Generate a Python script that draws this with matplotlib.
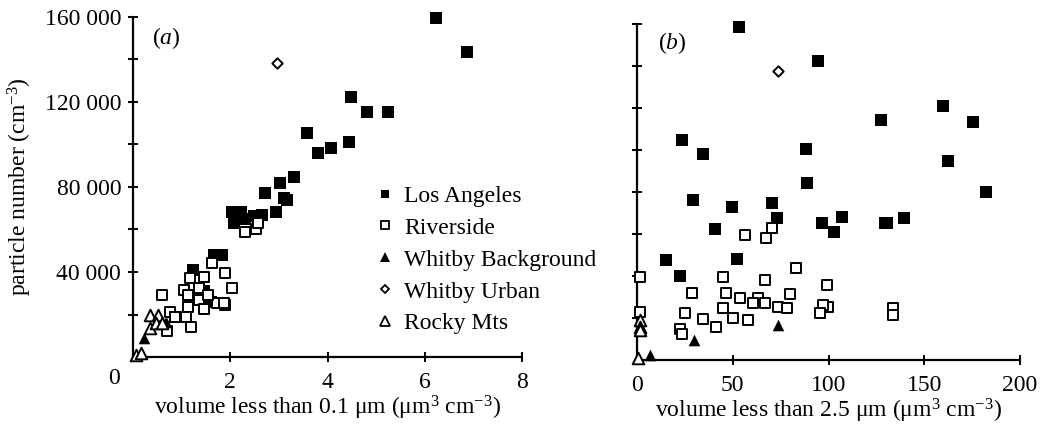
import matplotlib
matplotlib.use("Agg")
import matplotlib.pyplot as plt
from matplotlib.lines import Line2D

plt.rcParams['font.family'] = ['Liberation Serif', 'DejaVu Serif']
plt.rcParams['mathtext.fontset'] = 'custom'
plt.rcParams['mathtext.rm'] = 'Liberation Serif'
plt.rcParams['mathtext.it'] = 'Liberation Serif:italic'

# ---------------- Panel (a): volume < 0.1 um ----------------
la_a_x = [6.24, 6.86, 4.48, 4.82, 5.24, 4.45, 4.08, 3.57, 3.80, 3.32, 3.03, 2.72,
          3.10, 3.16, 2.95, 2.03, 2.23, 2.07, 2.31, 2.48, 2.65, 1.66, 1.84, 1.24, 1.45, 1.60]
la_a_y = [159500, 143500, 122400, 115300, 115300, 101200, 98400, 105400, 96000, 84700,
          81900, 77200, 74800, 73900, 68200, 68200, 68200, 63000, 65000, 66400, 66800,
          48000, 48000, 40900, 31000, 26000]

riv_a_x = [2.31, 2.52, 2.58, 1.62, 1.90, 1.47, 1.18, 2.03, 1.35, 1.04, 1.14, 0.59,
           1.35, 1.90, 1.72, 1.14, 1.47, 1.10, 0.77, 0.87, 0.69, 1.20, 1.88, 1.55, 0.86]
riv_a_y = [58800, 60200, 63000, 44200, 39500, 37600, 37200, 32500, 32500, 31500, 29200,
           29200, 26800, 24500, 25400, 23500, 22600, 18800, 21200, 18800, 12200, 14100,
           25400, 29000, 18800]

wbg_a_x = [0.22, 0.67]
wbg_a_y = [8900, 16500]

wurb_a_x = [2.97]
wurb_a_y = [138400]

rocky_a_x = [0.34, 0.52, 0.34, 0.48, 0.07, 0.17, 0.60]
rocky_a_y = [19800, 19800, 13600, 16000, 900, 1900, 16000]

# ---------------- Panel (b): volume < 2.5 um ----------------
la_b_x = [53.1, 23.4, 34.4, 88.0, 89.0, 94.3, 159.9, 175.5, 127.6, 162.5, 182.3,
          96.4, 103.1, 107.3, 129.7, 130.7, 139.6, 29.2, 49.5, 70.3, 72.9, 40.6,
          15.1, 22.4, 52.1]
la_b_y = [158600, 104800, 98100, 100500, 84300, 142400, 121000, 113300, 114300,
          94800, 80000, 65200, 60900, 68000, 65200, 65200, 67600, 76200, 72900,
          74800, 67600, 62400, 47600, 40000, 48100]

riv_b_x = [1.5, 56.3, 70.3, 67.2, 82.8, 44.8, 66.7, 28.6, 46.4, 53.6, 63.0, 60.4,
           66.7, 79.7, 44.8, 73.4, 78.1, 25.0, 34.4, 50.0, 57.8, 41.1, 22.4, 23.4,
           1.5, 99.0, 99.5, 96.9, 95.8, 133.9, 133.9]
riv_b_y = [39500, 59500, 62900, 58100, 43800, 39500, 38100, 31900, 31900, 29500,
           29500, 27100, 27100, 31400, 24800, 25200, 24800, 22400, 19500, 20000,
           19000, 15700, 14800, 12400, 22900, 35700, 25200, 26200, 22400, 24800, 21400]

wbg_b_x = [30.0, 73.4, 6.8]
wbg_b_y = [9500, 16700, 2400]

wurb_b_x = [73.4]
wurb_b_y = [137600]

rocky_b_x = [1.5, 1.5, 1.5, 0.5]
rocky_b_y = [19000, 15700, 14300, 1000]

legend_labels = ['Los Angeles', 'Riverside', 'Whitby Background', 'Whitby Urban', 'Rocky Mts']
xticks_a = [0, 2, 4, 6, 8]
xticks_b = [0, 50, 100, 150, 200]
yticks_major = [40000, 80000, 120000, 160000]
ytick_labels = ['40 000', '80 000', '120 000', '160 000']
yticks_minor = [20000, 60000, 100000, 140000]

FS = 17
fig = plt.figure(figsize=(10.4, 4.25), dpi=100)
ax_a = fig.add_axes([133/1040, 68/425, 389/1040, 340/425])
ax_b = fig.add_axes([637/1040, 65/425, 383/1040, 336/425])

SQ = 70
LW = 1.4

def draw(ax, la, riv, wbg, wurb, rocky):
    ax.scatter(*la, marker='s', s=SQ, color='black', linewidths=0, clip_on=False, zorder=3)
    ax.scatter(*riv, marker='s', s=SQ * 0.8, facecolors='white', edgecolors='black',
               linewidths=LW, clip_on=False, zorder=4)
    ax.scatter(*wbg, marker='^', s=70, color='black', linewidths=0, clip_on=False, zorder=5)
    ax.scatter(*wurb, marker='D', s=28, facecolors='white', edgecolors='black',
               linewidths=LW, clip_on=False, zorder=5)
    ax.scatter(*rocky, marker='^', s=70, facecolors='white', edgecolors='black',
               linewidths=LW, clip_on=False, zorder=5)
    for s in ['top', 'right']:
        ax.spines[s].set_visible(False)
    for s in ['left', 'bottom']:
        ax.spines[s].set_linewidth(1.6)
    ax.set_ylim(0, 160000)
    ax.set_yticks(yticks_major)
    ax.set_yticks(yticks_minor, minor=True)
    ax.tick_params(which='both', direction='inout', length=7, width=1.4, labelsize=FS)
    ax.tick_params(axis='x', pad=7)
    ax.tick_params(axis='y', pad=5)

draw(ax_a, (la_a_x, la_a_y), (riv_a_x, riv_a_y), (wbg_a_x, wbg_a_y),
     (wurb_a_x, wurb_a_y), (rocky_a_x, rocky_a_y))
draw(ax_b, (la_b_x, la_b_y), (riv_b_x, riv_b_y), (wbg_b_x, wbg_b_y),
     (wurb_b_x, wurb_b_y), (rocky_b_x, rocky_b_y))

ax_a.set_xlim(0, 8)
ax_a.set_xticks(xticks_a)
ax_a.set_xticklabels([''] + [str(t) for t in xticks_a[1:]])
ax_a.annotate(str(xticks_a[0]), xy=(0, 0), xycoords=('data', 'axes fraction'),
              xytext=(-13.5, -15.5), textcoords='offset points', ha='center', va='center',
              fontsize=FS)
ax_a.set_yticklabels(ytick_labels)
ax_a.set_xlabel(r'volume less than 0.1 μm (μm$^{3}$ cm$^{-3}$)', fontsize=FS, labelpad=1)
ax_a.set_ylabel(r'particle number (cm$^{-3}$)', fontsize=FS, labelpad=8)
ax_a.text(0.05, 0.92, r'($\mathit{a}$)', transform=ax_a.transAxes, fontsize=FS)

ax_b.set_xlim(0, 200)
ax_b.set_xticks(xticks_b)
ax_b.set_yticklabels([])
ax_b.set_xlabel(r'volume less than 2.5 μm (μm$^{3}$ cm$^{-3}$)', fontsize=FS, labelpad=1)
ax_b.text(0.055, 0.925, r'($\mathit{b}$)', transform=ax_b.transAxes, fontsize=FS)

handles = [
    Line2D([], [], ls='none', marker='s', ms=5.5, color='black', mew=0),
    Line2D([], [], ls='none', marker='s', ms=6, mfc='white', mec='black', mew=1.3),
    Line2D([], [], ls='none', marker='^', ms=6.5, color='black', mew=0),
    Line2D([], [], ls='none', marker='D', ms=4.5, mfc='white', mec='black', mew=1.3),
    Line2D([], [], ls='none', marker='^', ms=6.5, mfc='white', mec='black', mew=1.3),
]
ax_a.legend(handles, legend_labels, loc='upper left', bbox_to_anchor=(0.63, 0.505),
            frameon=False, fontsize=17, handlelength=0.55, handletextpad=0.55,
            labelspacing=0.44, borderpad=0, borderaxespad=0)

fig.savefig('out.png', dpi=100)
